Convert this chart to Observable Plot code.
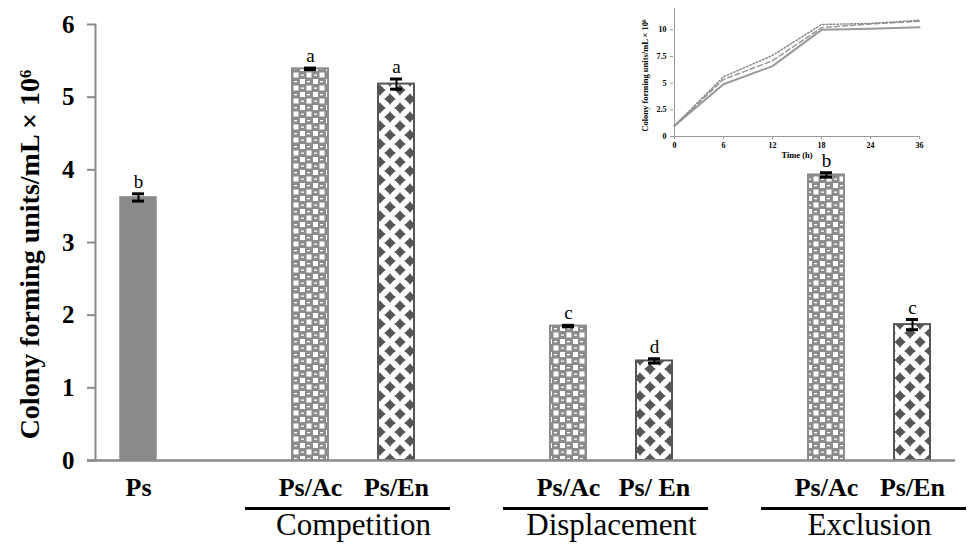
<!DOCTYPE html>
<html><head><meta charset="utf-8">
<script src="https://cdn.jsdelivr.net/npm/d3@7"></script>
<script src="https://cdn.jsdelivr.net/npm/@observablehq/plot@0.6"></script>
<style>
body{margin:0;background:#fff;}
#wrap{position:relative;width:971px;height:549px;overflow:hidden;}
#main{position:absolute;left:0;top:0;}
#inset{position:absolute;left:630px;top:0;}
</style></head><body><div id="wrap"><div id="main"></div><div id="inset"></div></div>
<script>
// ---- main chart data ----
const slots = ["Ps","gap1","C-Ac","C-En","gap2","D-Ac","D-En","gap3","E-Ac","E-En"];
const slotLabels = ["Ps","","Ps/Ac","Ps/En","","Ps/Ac","Ps/ En","","Ps/Ac","Ps/En"];
const barKeys = ["Ps","C-Ac","C-En","D-Ac","D-En","E-Ac","E-En"];
const barValues = [3.62,5.39,5.18,1.85,1.37,3.93,1.87];
const barErrors = [0.05,0.01,0.07,0.01,0.03,0.03,0.07];
const barLetters = ["b","a","a","c","d","b","c"];
const barPattern = ["solid","checker","diamond","checker","diamond","checker","diamond"];
const groups = ["Competition","Displacement","Exclusion"];
const groupStart = ["C-Ac","D-Ac","E-Ac"];
const groupEnd = ["C-En","D-En","E-En"];
const yTicks = [0,1,2,3,4,5,6];
const yLabel = "Colony forming units/mL × 10⁶";

// ---- inset data ----
const insetTimes = ["0","6","12","18","24","36"];
const insetPs = [1,4.9,6.6,10.0,10.1,10.25];
const insetPsAc = [1,5.35,7.1,10.2,10.55,10.8];
const insetPsEn = [1,5.6,7.6,10.5,10.6,10.9];
const insetYTicks = [0,2.5,5,7.5,10];
const insetXLabel = "Time (h)";

const serif = "'Liberation Serif','Times New Roman',serif";

const bars = barKeys.map((k,i)=>({key:k, value:barValues[i], err:barErrors[i], letter:barLetters[i], pattern:barPattern[i]}));
const labelRows = slots.map((s,i)=>({key:s, label:slotLabels[i]})).filter(d=>d.label);
const groupRows = groups.map((g,i)=>({name:g, start:groupStart[i], end:groupEnd[i]}));

const main = Plot.plot({
  width: 971, height: 549,
  marginLeft: 95, marginRight: 16, marginTop: 24, marginBottom: 89,
  style: {fontFamily: serif, background: "transparent", color: "black"},
  x: {domain: slots, paddingInner: 0.58, paddingOuter: 0.29, axis: null},
  y: {domain: [0,6], axis: null},
  marks: [
    Plot.axisY({ticks: yTicks, tickFormat: d=>String(d), tickSize: 8, tickPadding: 13, fontSize: 25, fontWeight: "bold", fontFamily: serif, stroke: "#8a8a8a", strokeWidth: 2, fill: "black", label: null}),
    Plot.text([yLabel], {frameAnchor: "left", textAnchor: "middle", text: d=>d, rotate: -90, dx: -65, dy: 12, fontSize: 28, fontWeight: "bold", fill: "black"}),
    Plot.frame({anchor: "left", stroke: "#8a8a8a", strokeWidth: 2}),
    Plot.barY(bars.filter(d=>d.pattern==="solid"), {x:"key", y:"value", fill:"#8a8a8a", stroke:"#8a8a8a", strokeWidth:1.5}),
    Plot.barY(bars.filter(d=>d.pattern==="checker"), {x:"key", y:"value", fill:"url(#checker)", stroke:"#8c8c8c", strokeWidth:2}),
    Plot.barY(bars.filter(d=>d.pattern==="diamond"), {x:"key", y:"value", fill:"url(#diamond)", stroke:"#555", strokeWidth:2}),
    Plot.ruleY([0], {stroke:"#8a8a8a", strokeWidth:2.5, insetLeft:-8}),
    Plot.ruleX(bars, {x:"key", y1:d=>d.value-d.err, y2:d=>d.value+d.err, stroke:"black", strokeWidth:2}),
    Plot.tickY(bars, {x:"key", y:d=>d.value+d.err, stroke:"black", strokeWidth:3, insetLeft:12, insetRight:12}),
    Plot.tickY(bars, {x:"key", y:d=>d.value-d.err, stroke:"black", strokeWidth:3, insetLeft:12, insetRight:12}),
    Plot.text(bars, {x:"key", y:d=>d.value+d.err, text:"letter", dy:-12, fontSize:19, fill:"black"}),
    Plot.text(labelRows, {x:"key", text:"label", frameAnchor:"bottom", dy:35, fontSize:26, fontWeight:"bold", fill:"black"}),
    Plot.ruleY(groupRows, {x1:"start", x2:"end", y:0, dy:48, insetLeft:-47, insetRight:-36, stroke:"black", strokeWidth:3}),
    Plot.text(groupRows, {x:"start", text:"name", frameAnchor:"bottom", dx:43, dy:74, fontSize:31, fill:"black"})
  ]
});

// patterns
const svg = d3.select(main.tagName.toLowerCase()==="svg" ? main : main.querySelector("svg"));
const defs = svg.insert("defs", ":first-child");
const pc = defs.append("pattern").attr("id","checker").attr("patternUnits","userSpaceOnUse").attr("width",13).attr("height",13);
pc.append("rect").attr("width",13).attr("height",13).attr("fill","#8c8c8c");
pc.append("rect").attr("x",1).attr("y",1).attr("width",5).attr("height",5).attr("fill","#fff");
pc.append("rect").attr("x",7.5).attr("y",7.5).attr("width",5).attr("height",5).attr("fill","#fff");
pc.append("rect").attr("x",8).attr("y",3).attr("width",3).attr("height",1.3).attr("fill","#fff");
pc.append("rect").attr("x",2).attr("y",9.5).attr("width",3).attr("height",1.3).attr("fill","#fff");
const pd = defs.append("pattern").attr("id","diamond").attr("patternUnits","userSpaceOnUse").attr("width",20).attr("height",18);
pd.append("rect").attr("width",20).attr("height",18).attr("fill","#fff");
const dia = (cx,cy)=>`M${cx},${cy-6}L${cx+1.2},${cy-4}L${cx+4},${cy-1.2}L${cx+6},${cy}L${cx+4},${cy+1.2}L${cx+1.2},${cy+4}L${cx},${cy+6}L${cx-1.2},${cy+4}L${cx-4},${cy+1.2}L${cx-6},${cy}L${cx-4},${cy-1.2}L${cx-1.2},${cy-4}Z`;
[[0,0],[20,0],[0,18],[20,18],[10,9]].forEach(([cx,cy])=>{
  pd.append("path").attr("d",dia(cx,cy)).attr("fill","#555");
  pd.append("circle").attr("cx",cx).attr("cy",cy).attr("r",3.4).attr("fill","#555");
});
document.getElementById("main").appendChild(main);

// ---- inset ----
const insetRows = insetTimes.flatMap((t,i)=>[
  {t, v:insetPs[i], s:"Ps"},
  {t, v:insetPsAc[i], s:"Ps/Ac"},
  {t, v:insetPsEn[i], s:"Ps/En"}
]);
const inset = Plot.plot({
  width: 341, height: 165,
  marginLeft: 43, marginRight: 51, marginTop: 8, marginBottom: 29,
  style: {fontFamily: serif, background: "transparent", color: "black"},
  x: {type:"point", domain: insetTimes, padding: 0, axis: null},
  y: {domain: [0,12], axis: null},
  marks: [
    Plot.axisY({ticks: insetYTicks, tickSize: 3, tickPadding: 4, fontSize: 8, fontWeight: "bold", fontFamily: serif, stroke: "#999", tickFormat: d=>String(d), label: null}),
    Plot.axisX({tickSize: 3, tickPadding: 3, fontSize: 8, fontWeight: "bold", fontFamily: serif, stroke: "#999", label: null}),
    Plot.ruleX([insetTimes[0]], {stroke:"#999", strokeWidth:1}),
    Plot.ruleY([0], {stroke:"#999", strokeWidth:1}),
    Plot.text([yLabel], {frameAnchor:"left", textAnchor:"middle", text:d=>d, rotate:-90, dx:-28, dy:3, fontSize:8.5, fontWeight:"bold", fill:"black"}),
    Plot.text([insetXLabel], {frameAnchor:"bottom", text:d=>d, dy:21, fontSize:8.5, fontWeight:"bold", fill:"black"}),
    Plot.line(insetRows.filter(d=>d.s==="Ps"), {x:"t", y:"v", stroke:"#999", strokeWidth:2}),
    Plot.line(insetRows.filter(d=>d.s==="Ps/Ac"), {x:"t", y:"v", stroke:"#999", strokeWidth:1.5, strokeDasharray:"5,3"}),
    Plot.line(insetRows.filter(d=>d.s==="Ps/En"), {x:"t", y:"v", stroke:"#888", strokeWidth:1.5, strokeDasharray:"1.5,2"})
  ]
});
document.getElementById("inset").appendChild(inset);
</script></body></html>
